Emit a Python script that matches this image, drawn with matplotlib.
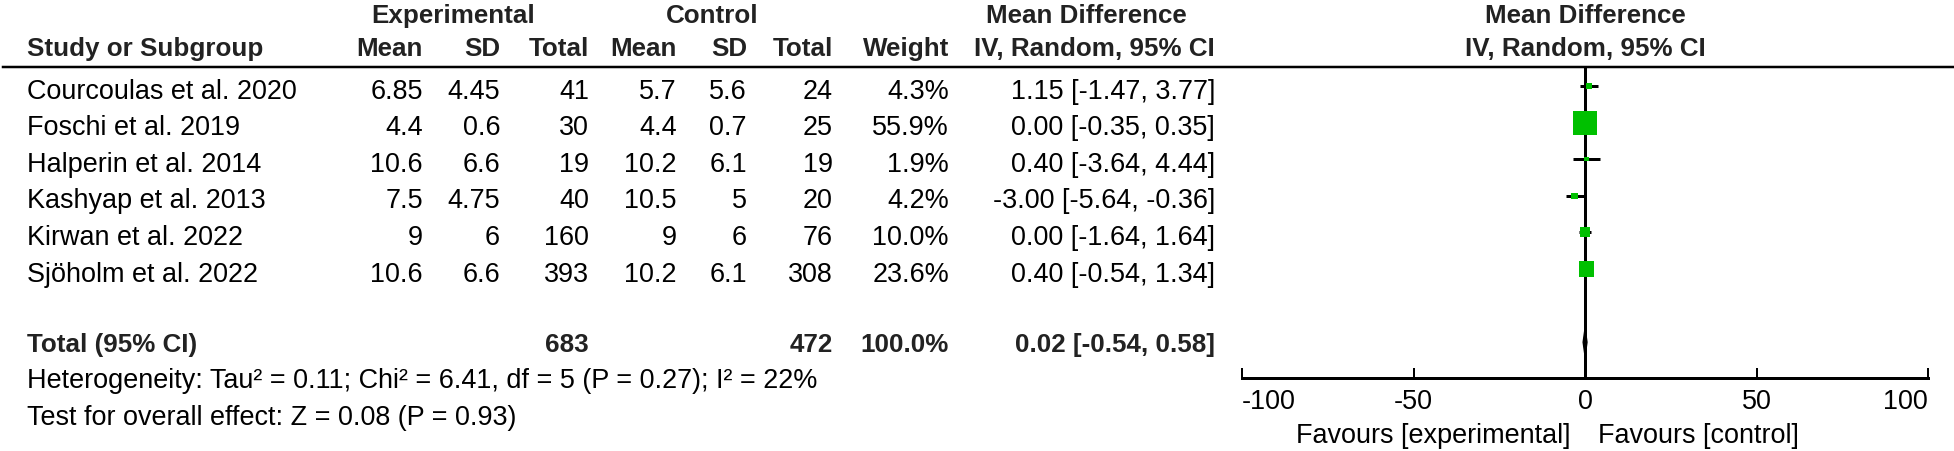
import numpy as np
import matplotlib.pyplot as plt

# ---- data ----
studies = ["Courcoulas et al. 2020", "Foschi et al. 2019", "Halperin et al. 2014",
           "Kashyap et al. 2013", "Kirwan et al. 2022", "Sjöholm et al. 2022"]
exp_mean = [6.85, 4.4, 10.6, 7.5, 9, 10.6]
exp_sd = [4.45, 0.6, 6.6, 4.75, 6, 6.6]
exp_n = [41, 30, 19, 40, 160, 393]
ctl_mean = [5.7, 4.4, 10.2, 10.5, 9, 10.2]
ctl_sd = [5.6, 0.7, 6.1, 5, 6, 6.1]
ctl_n = [24, 25, 19, 20, 76, 308]
weights = [4.3, 55.9, 1.9, 4.2, 10.0, 23.6]
md = [1.15, 0.00, 0.40, -3.00, 0.00, 0.40]
ci_lo = [-1.47, -0.35, -3.64, -5.64, -1.64, -0.54]
ci_hi = [3.77, 0.35, 4.44, -0.36, 1.64, 1.34]

total_exp, total_ctl, total_weight = 683, 472, 100.0
total_md, total_lo, total_hi = 0.02, -0.54, 0.58
heterogeneity = "Heterogeneity: Tau² = 0.11; Chi² = 6.41, df = 5 (P = 0.27); I² = 22%"
overall = "Test for overall effect: Z = 0.08 (P = 0.93)"
ticks = [-100, -50, 0, 50, 100]

# ---- layout (pixels) ----
W, H, DPI = 1954, 451, 100
PX = 72 / DPI                    # points per pixel
FPX, BPX = 27, 26                # regular / bold font size in px
ROW0, ROWH = 86, 36.6            # first study row centre, row pitch
TOTAL_R = 7
LINE_Y, AXIS_Y = 67, 378
X0, X1 = 1242, 1928              # -100 ... 100

plt.rcParams['font.family'] = ['Liberation Sans', 'DejaVu Sans']

fig = plt.figure(figsize=(W / DPI, H / DPI), dpi=DPI)
tab = fig.add_axes([0, 0, 1, 1])
tab.set_xlim(0, W)
tab.set_ylim(H, 0)
tab.axis('off')


def row_y(r):
    return ROW0 + ROWH * r


def put(x, y, s, ha='right', bold=False):
    # y is the visual centre of the capitals
    size = BPX if bold else FPX
    tab.text(x, y + 0.716 * size / 2, s, ha=ha, va='baseline', fontsize=size * PX,
             fontweight='bold' if bold else 'normal',
             color='#222222' if bold else 'black')


# column right edges
cols = [423, 500, 589, 677, 747, 833, 949, 1215]

# header
put(453, 14, "Experimental", ha='center', bold=True)
put(712, 14, "Control", ha='center', bold=True)
put(1086, 14, "Mean Difference", ha='center', bold=True)
put(1585, 14, "Mean Difference", ha='center', bold=True)
put(27, 47, "Study or Subgroup", ha='left', bold=True)
for x, s in zip(cols, ["Mean", "SD", "Total", "Mean", "SD", "Total", "Weight",
                       "IV, Random, 95% CI"]):
    put(x, 47, s, bold=True)
put(1585, 47, "IV, Random, 95% CI", ha='center', bold=True)
tab.plot([3, W], [LINE_Y, LINE_Y], color='black', lw=2.5 * PX)

# study rows
for i, name in enumerate(studies):
    y = row_y(i) + 3
    put(27, y, name, ha='left')
    vals = [f"{exp_mean[i]:g}", f"{exp_sd[i]:g}", str(exp_n[i]),
            f"{ctl_mean[i]:g}", f"{ctl_sd[i]:g}", str(ctl_n[i]),
            f"{weights[i]:.1f}%",
            f"{md[i]:.2f} [{ci_lo[i]:.2f}, {ci_hi[i]:.2f}]"]
    for x, s in zip(cols, vals):
        put(x, y, s)

# total row
yt = row_y(TOTAL_R)
put(27, yt, "Total (95% CI)", ha='left', bold=True)
put(cols[2], yt, str(total_exp), bold=True)
put(cols[5], yt, str(total_ctl), bold=True)
put(cols[6], yt, f"{total_weight:.1f}%", bold=True)
put(cols[7], yt, f"{total_md:.2f} [{total_lo:.2f}, {total_hi:.2f}]", bold=True)
put(27, row_y(8), heterogeneity, ha='left')
put(27, row_y(9), overall, ha='left')

# ---- forest panel ----
top_r = (LINE_Y - ROW0) / ROWH
bot_r = (AXIS_Y - ROW0) / ROWH
ax = fig.add_axes([X0 / W, 1 - AXIS_Y / H, (X1 - X0) / W, (AXIS_Y - LINE_Y) / H])
ax.set_xlim(ticks[0], ticks[-1])
ax.set_ylim(bot_r, top_r)
ax.patch.set_alpha(0)
for side in ['top', 'left', 'right']:
    ax.spines[side].set_visible(False)
ax.spines['bottom'].set_linewidth(3 * PX)
ax.set_yticks([])

ax.axvline(0, color='black', lw=3 * PX, zorder=1)
rows = np.arange(len(studies))
ax.hlines(rows, ci_lo, ci_hi, color='black', lw=3 * PX, zorder=2)
side_px = 3.2 * np.sqrt(weights)
ax.scatter(md, rows, marker='s', s=(side_px * PX) ** 2, color='#00c000',
           edgecolors='none', zorder=3)
h = 0.38
ax.fill([total_lo, total_md, total_hi, total_md],
        [TOTAL_R, TOTAL_R - h, TOTAL_R, TOTAL_R + h], color='black', zorder=3)

ax.set_xticks(ticks)
ax.set_xticklabels([str(t) for t in ticks], fontsize=FPX * PX)
ax.set_xticks([ticks[0], ticks[-1]], minor=True)
ax.tick_params(axis='x', which='major', direction='in', length=10 * PX,
               width=2 * PX, pad=11 * PX)
ax.tick_params(axis='x', which='minor', direction='inout', length=20 * PX,
               width=2 * PX)
lbls = ax.get_xticklabels()
lbls[0].set_ha('left')
lbls[-1].set_ha('right')

ax.annotate("Favours [experimental]", xy=(0, 0), xycoords=('data', 'axes fraction'),
            xytext=(-15 * PX, -65 * PX), textcoords='offset points',
            ha='right', va='baseline', fontsize=FPX * PX)
ax.annotate("Favours [control]", xy=(0, 0), xycoords=('data', 'axes fraction'),
            xytext=(13 * PX, -65 * PX), textcoords='offset points',
            ha='left', va='baseline', fontsize=FPX * PX)

fig.savefig('out.png', dpi=DPI)
